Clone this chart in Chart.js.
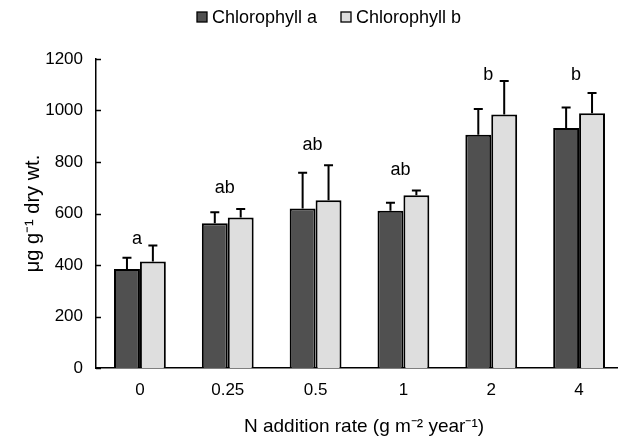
<!DOCTYPE html>
<html>
<head>
<meta charset="utf-8">
<script src="https://cdn.jsdelivr.net/npm/chart.js@4/dist/chart.umd.min.js"></script>
<style>
html,body{margin:0;padding:0;background:#fff;overflow:hidden;width:618px;height:439px;}
#wrap{width:640px;height:439px;}
</style>
</head>
<body>
<div id="wrap"><canvas id="c" width="640" height="439"></canvas></div>
<script>
const categories = ['0', '0.25', '0.5', '1', '2', '4'];
const chlA = [384, 562, 619, 611, 906, 932];
const chlAErr = [44, 43, 139, 31, 100, 80];
const chlB = [414, 584, 651, 671, 984, 989];
const chlBErr = [62, 33, 136, 18, 131, 79];
const sigLetters = ['a', 'ab', 'ab', 'ab', 'b', 'b'];
const sigLevel = [501, 699, 866, 769, 1138, 1138];
const yTicks = [0, 200, 400, 600, 800, 1000, 1200];
const seriesNames = ['Chlorophyll a', 'Chlorophyll b'];

const FONT = '"Liberation Sans", Arial, Helvetica, sans-serif';

const errors = [chlAErr, chlBErr];

const extrasPlugin = {
  id: 'extras',
  afterDatasetsDraw(chart) {
    const ctx = chart.ctx;
    const y = chart.scales.y;
    const x = chart.scales.x;
    ctx.save();
    // error bars
    ctx.strokeStyle = '#000';
    ctx.lineWidth = 2;
    chart.data.datasets.forEach((ds, di) => {
      const meta = chart.getDatasetMeta(di);
      meta.data.forEach((bar, i) => {
        const top = y.getPixelForValue(ds.data[i] + errors[di][i]);
        ctx.beginPath();
        ctx.moveTo(bar.x, bar.y);
        ctx.lineTo(bar.x, top);
        ctx.moveTo(bar.x - 4.5, top);
        ctx.lineTo(bar.x + 4.5, top);
        ctx.stroke();
      });
    });
    // inward y tick marks
    ctx.lineWidth = 1.5;
    const ca = chart.chartArea;
    y.ticks.forEach(t => {
      const py = Math.round(y.getPixelForValue(t.value)) + 0.5;
      ctx.beginPath();
      ctx.moveTo(ca.left, py);
      ctx.lineTo(ca.left + 5, py);
      ctx.stroke();
    });
    // significance letters
    ctx.fillStyle = '#000';
    ctx.font = '18px ' + FONT;
    ctx.textAlign = 'center';
    ctx.textBaseline = 'middle';
    sigLetters.forEach((s, i) => {
      ctx.fillText(s, x.getPixelForValue(i) - 3, y.getPixelForValue(sigLevel[i]));
    });
    // legend
    ctx.font = '18px ' + FONT;
    ctx.textAlign = 'left';
    const legendX = [197, 341];
    chart.data.datasets.forEach((ds, di) => {
      const lx = legendX[di];
      ctx.fillStyle = ds.backgroundColor;
      ctx.fillRect(lx, 12, 10, 10);
      ctx.lineWidth = 1.3;
      ctx.strokeStyle = '#000';
      ctx.strokeRect(lx, 12, 10, 10);
      ctx.fillStyle = '#000';
      ctx.fillText(ds.label, lx + 15, 18);
    });
    // axis titles
    ctx.font = '19px ' + FONT;
    ctx.textAlign = 'center';
    ctx.fillText('N addition rate (g m\u207B\u00B2 year\u207B\u00B9)', 364, 427);
    ctx.font = '20px ' + FONT;
    ctx.translate(33, (ca.top + ca.bottom) / 2);
    ctx.rotate(-Math.PI / 2);
    ctx.fillText('\u03BCg g\u207B\u00B9 dry wt.', 0, 0);
    ctx.restore();
  }
};

new Chart(document.getElementById('c'), {
  type: 'bar',
  data: {
    labels: categories,
    datasets: [
      { label: seriesNames[0], data: chlA, backgroundColor: '#505050', borderColor: '#000', borderWidth: 2 },
      { label: seriesNames[1], data: chlB, backgroundColor: '#dedede', borderColor: '#000', borderWidth: 2 }
    ]
  },
  options: {
    responsive: false,
    animation: false,
    devicePixelRatio: 1,
    layout: { padding: { top: 59, left: 0, right: 17, bottom: 0 } },
    plugins: { legend: { display: false }, tooltip: { enabled: false } },
    datasets: { bar: { categoryPercentage: 0.59, barPercentage: 1.0 } },
    scales: {
      x: {
        offset: true,
        grid: { display: false, drawTicks: false },
        border: { display: true, color: '#000', width: 1.5 },
        ticks: { color: '#000', font: { family: FONT, size: 17 }, padding: 12, maxRotation: 0 },
        afterFit(s) { s.height = 71; }
      },
      y: {
        min: 0, max: 1200,
        afterBuildTicks(s) { s.ticks = yTicks.map(v => ({ value: v })); },
        grid: { display: false, drawTicks: false },
        border: { display: true, color: '#000', width: 1.5 },
        ticks: { color: '#000', font: { family: FONT, size: 17 }, padding: 13, callback: (v) => String(v) },
        afterFit(s) { s.width = 96; }
      }
    }
  },
  plugins: [extrasPlugin]
});
</script>
</body>
</html>
